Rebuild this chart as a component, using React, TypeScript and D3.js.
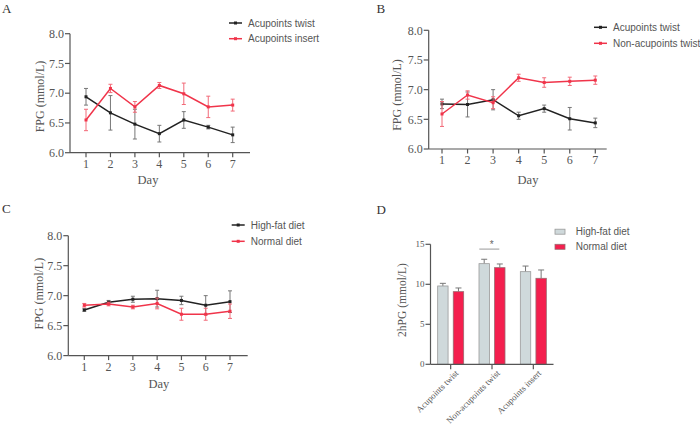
import React from "react";
import * as d3 from "d3";

const days = [1, 2, 3, 4, 5, 6, 7];
const fpgTicks = [6.0, 6.5, 7.0, 7.5, 8.0];

const aTwistMean = [6.94, 6.67, 6.48, 6.32, 6.55, 6.43, 6.3];
const aTwistErr = [0.14, 0.29, 0.25, 0.14, 0.14, 0.03, 0.13];
const aInsertMean = [6.55, 7.08, 6.77, 7.13, 6.99, 6.77, 6.8];
const aInsertErr = [0.18, 0.07, 0.09, 0.05, 0.18, 0.18, 0.1];

const bTwistMean = [6.76, 6.75, 6.83, 6.56, 6.68, 6.51, 6.44];
const bTwistErr = [0.08, 0.21, 0.17, 0.06, 0.06, 0.19, 0.08];
const bNonMean = [6.59, 6.91, 6.78, 7.2, 7.12, 7.14, 7.16];
const bNonErr = [0.21, 0.07, 0.1, 0.06, 0.08, 0.07, 0.07];

const cHighFatMean = [6.76, 6.89, 6.94, 6.95, 6.92, 6.84, 6.9];
const cHighFatErr = [0.02, 0.03, 0.05, 0.14, 0.07, 0.16, 0.18];
const cNormalMean = [6.84, 6.86, 6.81, 6.87, 6.69, 6.69, 6.74];
const cNormalErr = [0.03, 0.03, 0.03, 0.09, 0.1, 0.1, 0.12];

const dGroups = ["Acupoints twist", "Non-acupoints twist", "Acupoints insert"];
const dSeries = ["High-fat diet", "Normal diet"];
const dHighFat = [9.79, 12.58, 11.58];
const dHighFatErr = [0.33, 0.55, 0.7];
const dNormal = [9.08, 12.08, 10.75];
const dNormalErr = [0.46, 0.46, 1.04];
const dTicks = [0, 5, 10, 15];

const BLACK = "#222";
const RED = "#f0344a";
const AXIS = "#555";
const TEXT = "#555";
const SERIF = "'Liberation Serif', 'DejaVu Serif', serif";
const SANS = "'Liberation Sans', Arial, sans-serif";

type Series = { name: string; mean: number[]; err: number[]; color: string; errColor: string };

function LinePanel(props: {
  letter: string;
  letterX: number;
  letterY: number;
  axisX: number;
  yTop: number;
  yBottom: number;
  xEnd: number;
  day1: number;
  day7: number;
  series: Series[];
  legX: number;
  legY: number[];
  dayX: number;
  dayY: number;
  titleX: number;
  titleY: number;
}) {
  const p = props;
  const x = d3.scaleLinear().domain([1, 7]).range([p.day1, p.day7]);
  const y = d3.scaleLinear().domain([6, 8]).range([p.yBottom, p.yTop]);
  const fmt = d3.format(".1f");
  return (
    <g>
      <text x={p.letterX} y={p.letterY} fontFamily={SERIF} fontSize={13} fill="#333">
        {p.letter}
      </text>
      <line x1={p.axisX} x2={p.axisX} y1={p.yTop} y2={p.yBottom} stroke={AXIS} strokeWidth={1.2} />
      <line x1={p.axisX} x2={p.xEnd} y1={p.yBottom} y2={p.yBottom} stroke={AXIS} strokeWidth={1.2} />
      {fpgTicks.map((t) => (
        <g key={t}>
          <line x1={p.axisX - 5} x2={p.axisX} y1={y(t)} y2={y(t)} stroke={AXIS} strokeWidth={1.2} />
          <text
            x={p.axisX - 6}
            y={y(t)}
            dy="0.35em"
            textAnchor="end"
            fontFamily={SERIF}
            fontSize={12}
            fill={TEXT}
          >
            {fmt(t)}
          </text>
        </g>
      ))}
      {days.map((d) => (
        <g key={d}>
          <line x1={x(d)} x2={x(d)} y1={p.yBottom} y2={p.yBottom + 4.5} stroke={AXIS} strokeWidth={1.2} />
          <text x={x(d)} y={p.yBottom + 15} textAnchor="middle" fontFamily={SERIF} fontSize={12} fill={TEXT}>
            {d}
          </text>
        </g>
      ))}
      <text x={p.dayX} y={p.dayY} textAnchor="middle" fontFamily={SERIF} fontSize={12.5} fill={TEXT}>
        Day
      </text>
      <text
        transform={`translate(${p.titleX},${p.titleY}) rotate(-90)`}
        textAnchor="middle"
        dy="0.35em"
        fontFamily={SERIF}
        fontSize={12}
        fill={TEXT}
      >
        FPG (mmol/L)
      </text>
      {p.series.map((s, si) => {
        const line = d3
          .line<number>()
          .x((_, i) => x(days[i]))
          .y((v) => y(v));
        return (
          <g key={si}>
            {s.mean.map((m, i) => (
              <g key={i} stroke={s.errColor} strokeWidth={1}>
                <line x1={x(days[i])} x2={x(days[i])} y1={y(m - s.err[i])} y2={y(m + s.err[i])} />
                <line x1={x(days[i]) - 2} x2={x(days[i]) + 2} y1={y(m - s.err[i])} y2={y(m - s.err[i])} />
                <line x1={x(days[i]) - 2} x2={x(days[i]) + 2} y1={y(m + s.err[i])} y2={y(m + s.err[i])} />
              </g>
            ))}
            <path d={line(s.mean) || ""} fill="none" stroke={s.color} strokeWidth={1.5} />
            {s.mean.map((m, i) => (
              <rect key={i} x={x(days[i]) - 1.5} y={y(m) - 1.5} width={3} height={3} fill={s.color} />
            ))}
            <line x1={p.legX} x2={p.legX + 13} y1={p.legY[si]} y2={p.legY[si]} stroke={s.color} strokeWidth={1.5} />
            <rect x={p.legX + 5} y={p.legY[si] - 1.5} width={3} height={3} fill={s.color} />
            <text x={p.legX + 19} y={p.legY[si]} dy="0.35em" fontFamily={SANS} fontSize={10} fill={TEXT}>
              {s.name}
            </text>
          </g>
        );
      })}
    </g>
  );
}

function BarPanel() {
  const axisX = 430.5;
  const yTop = 244.3;
  const yBottom = 364.3;
  const x0 = d3.scaleBand().domain(dGroups).range([430, 554]).padding(0);
  const x1 = d3.scaleBand().domain(dSeries).range([-13, 13]).paddingInner(0.333);
  const y = d3.scaleLinear().domain([0, 15]).range([yBottom, yTop]);
  const data = [
    { mean: dHighFat, err: dHighFatErr, fill: "#cfd9db", stroke: "#9a9a9a" },
    { mean: dNormal, err: dNormalErr, fill: "#f41f4e", stroke: "#9a6a70" },
  ];
  const legY = [231.7, 246.8];
  return (
    <g>
      <text x={376.5} y={214} fontFamily={SERIF} fontSize={13} fill="#333">
        D
      </text>
      {dGroups.map((g, gi) => {
        const cx = (x0(g) as number) + x0.bandwidth() / 2;
        return (
          <g key={g}>
            {data.map((s, si) => {
              const bx = cx + (x1(dSeries[si]) as number);
              const bw = x1.bandwidth();
              const v = s.mean[gi];
              const top = y(v + s.err[gi]);
              return (
                <g key={si}>
                  <line x1={bx + bw / 2} x2={bx + bw / 2} y1={y(v)} y2={top} stroke="#777" strokeWidth={1} />
                  <line x1={bx + bw / 2 - 3} x2={bx + bw / 2 + 3} y1={top} y2={top} stroke="#777" strokeWidth={1} />
                  <rect
                    x={bx}
                    y={y(v)}
                    width={bw}
                    height={yBottom - y(v)}
                    fill={s.fill}
                    stroke={s.stroke}
                    strokeWidth={0.8}
                  />
                </g>
              );
            })}
            <line x1={cx} x2={cx} y1={yBottom} y2={yBottom + 5} stroke={AXIS} strokeWidth={1.2} />
            <text
              transform={`translate(${cx + 4},${yBottom + 5}) rotate(-45)`}
              textAnchor="end"
              dy="0.7em"
              fontFamily={SERIF}
              fontSize={8.8}
              fill={TEXT}
            >
              {g}
            </text>
          </g>
        );
      })}
      <line x1={axisX} x2={axisX} y1={yTop} y2={yBottom} stroke={AXIS} strokeWidth={1.2} />
      <line x1={axisX} x2={553.5} y1={yBottom} y2={yBottom} stroke={AXIS} strokeWidth={1.2} />
      {dTicks.map((t) => (
        <g key={t}>
          <line x1={axisX - 5} x2={axisX} y1={y(t)} y2={y(t)} stroke={AXIS} strokeWidth={1.2} />
          <text x={axisX - 6} y={y(t)} dy="0.35em" textAnchor="end" fontFamily={SERIF} fontSize={9} fill={TEXT}>
            {t}
          </text>
        </g>
      ))}
      <text
        transform={`translate(401.7,300) rotate(-90)`}
        textAnchor="middle"
        dy="0.35em"
        fontFamily={SERIF}
        fontSize={11.5}
        fill={TEXT}
      >
        2hPG (mmol/L)
      </text>
      <line x1={479.3} x2={499.3} y1={y(14.4)} y2={y(14.4)} stroke="#aaa" strokeWidth={1.2} />
      <text x={491.7} y={y(14.4) - 1.5} textAnchor="middle" fontFamily={SANS} fontSize={10} fill="#666">
        *
      </text>
      {data.map((s, si) => (
        <g key={si}>
          <rect x={555} y={legY[si] - 2.5} width={10} height={5} fill={s.fill} stroke={s.stroke} strokeWidth={0.8} />
          <text x={575.7} y={legY[si]} dy="0.35em" fontFamily={SANS} fontSize={10} fill={TEXT}>
            {dSeries[si]}
          </text>
        </g>
      ))}
    </g>
  );
}

export default function App() {
  return (
    <>
      <style>{"body{margin:0;}"}</style>
      <svg width={700} height={425} style={{ display: "block", background: "#fff" }}>
        <LinePanel
          letter="A"
          letterX={2}
          letterY={13.3}
          axisX={70}
          yTop={33.7}
          yBottom={152.7}
          xEnd={250}
          day1={86}
          day7={232.7}
          series={[
            { name: "Acupoints twist", mean: aTwistMean, err: aTwistErr, color: BLACK, errColor: "#777" },
            { name: "Acupoints insert", mean: aInsertMean, err: aInsertErr, color: RED, errColor: "#f26a78" },
          ]}
          legX={229}
          legY={[23, 38.7]}
          dayX={148}
          dayY={184}
          titleX={40}
          titleY={96.5}
        />
        <LinePanel
          letter="B"
          letterX={376.5}
          letterY={13.3}
          axisX={428.7}
          yTop={30.3}
          yBottom={149}
          xEnd={606.7}
          day1={442}
          day7={595.3}
          series={[
            { name: "Acupoints twist", mean: bTwistMean, err: bTwistErr, color: BLACK, errColor: "#777" },
            { name: "Non-acupoints twist", mean: bNonMean, err: bNonErr, color: RED, errColor: "#f26a78" },
          ]}
          legX={594}
          legY={[27.3, 43.3]}
          dayX={528}
          dayY={184}
          titleX={397}
          titleY={95}
        />
        <LinePanel
          letter="C"
          letterX={2}
          letterY={213.3}
          axisX={68.3}
          yTop={235.7}
          yBottom={355.6}
          xEnd={247.7}
          day1={84.3}
          day7={230}
          series={[
            { name: "High-fat diet", mean: cHighFatMean, err: cHighFatErr, color: BLACK, errColor: "#777" },
            { name: "Normal diet", mean: cNormalMean, err: cNormalErr, color: RED, errColor: "#f26a78" },
          ]}
          legX={231.7}
          legY={[225, 241.3]}
          dayX={158.8}
          dayY={388}
          titleX={38.7}
          titleY={293.7}
        />
        <BarPanel />
      </svg>
    </>
  );
}
